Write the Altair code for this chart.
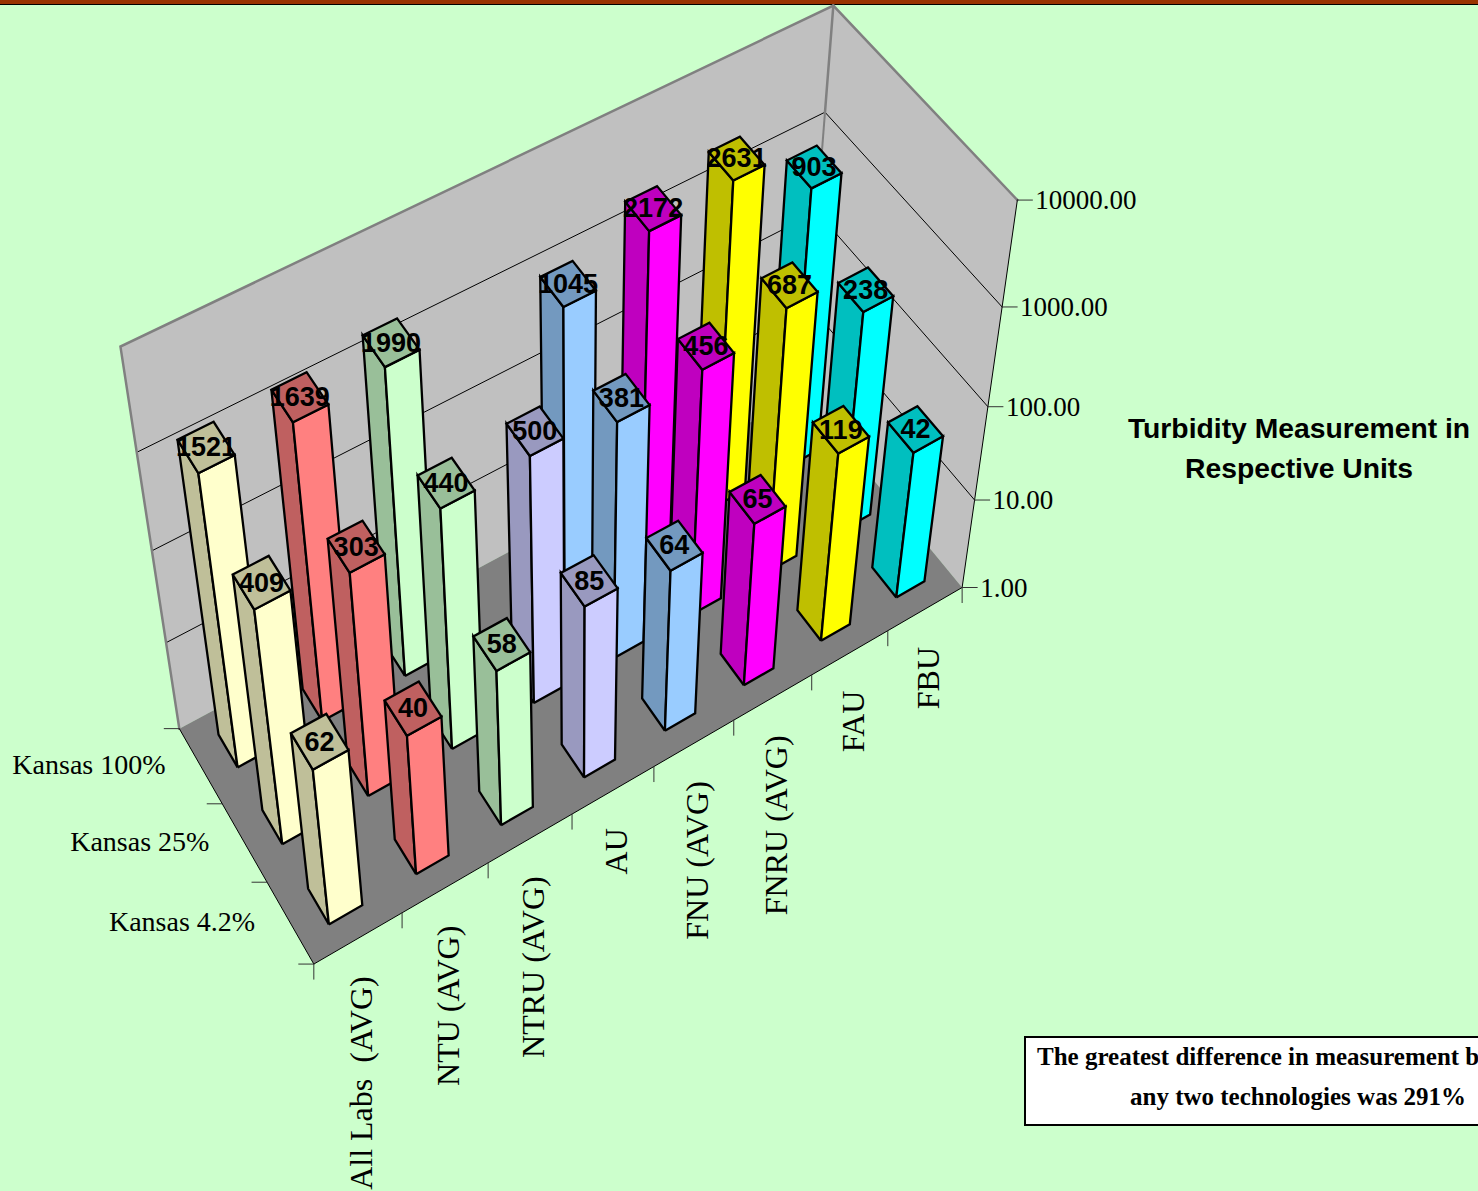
import altair as alt
import numpy as np
import pandas as pd

# Turbidity readings per technology and Kansas dilution
categories = ["All Labs\u00a0 (AVG)", "NTU (AVG)", "NTRU (AVG)", "AU", "FNU (AVG)", "FNRU (AVG)", "FAU", "FBU"]
series = ["Kansas 4.2%", "Kansas 25%", "Kansas 100%"]
kansas_4 = [62, 40, 58, 85, 64, 65, 119, 42]
kansas_25 = [409, 303, 440, 500, 381, 456, 687, 238]
kansas_100 = [1521, 1639, 1990, None, 1045, 2172, 2631, 903]
z_ticks = ["1.00", "10.00", "100.00", "1000.00", "10000.00"]
light = ["#FFFFCC", "#FF8080", "#CCFFCC", "#CCCCFF", "#99CCFF", "#FF00FF", "#FFFF00", "#00FFFF"]
dark = ["#BFBF99", "#BF6060", "#99BF99", "#9999BF", "#7399BF", "#BF00BF", "#BFBF00", "#00BFBF"]

W, H = 1478, 1191

# Perspective camera for the 3-D box: (category, row, decade) -> canvas position
camera_world = np.array([
    (0, 0, 0), (8, 0, 0), (0, 3, 0), (8, 3, 0), (8, 0, 1), (8, 0, 2), (8, 0, 3), (8, 0, 4),
    (8, 3, 4), (8, 3, 3), (0, 3, 4), (0, 3, 3), (0, 3, 2), (0, 3, 1), (1, 0, 0), (7, 0, 0),
    (0, 1, 0), (0, 2, 0),
    (7.32, 0.72, 1.623), (7.32, 0.28, 1.623), (7.7, 0.28, 1.623), (7.7, 0.72, 1.623), (7.32, 0.28, 0),
    (0.32, 0.72, 1.792), (0.7, 0.72, 1.792), (0.7, 0.28, 1.792), (0.32, 0.28, 1.792),
    (0.32, 0.28, 0), (0.7, 0.28, 0), (0.32, 0.72, 0),
    (0.32, 2.72, 3.182), (0.7, 2.72, 3.182), (0.7, 2.28, 3.182), (0.32, 2.28, 3.182)], dtype=float)
camera_canvas = np.array([
    (315, 965), (963, 587), (178, 727), (803, 396), (975, 499), (988, 406), (1002, 307), (1017, 201),
    (833, 5), (825, 112), (120, 347), (138, 452), (152, 550), (167, 642), (403, 913), (888, 632),
    (267, 882), (222, 804),
    (889, 425), (911, 451), (942, 434), (920, 407), (895, 597),
    (292, 737), (328, 717), (348, 749), (312, 768),
    (327, 923), (362, 903), (308, 891),
    (177, 441), (215, 423), (234, 453), (197, 472)], dtype=float)

rows_a, rows_b = [], []
for (X, Y, Z), (u, v) in zip(camera_world, camera_canvas):
    rows_a.append([X, Y, Z, 1, 0, 0, 0, 0, -u * X, -u * Y, -u * Z])
    rows_b.append(u)
    rows_a.append([0, 0, 0, 0, X, Y, Z, 1, -v * X, -v * Y, -v * Z])
    rows_b.append(v)
cam = np.append(np.linalg.lstsq(np.array(rows_a), np.array(rows_b), rcond=None)[0], 1).reshape(3, 4)


def project(c, s, z):
    p = cam @ np.array([c, s, z, 1.0])
    return p[0] / p[2], p[1] / p[2]


def table(poly_list):
    out = []
    for pid, pts, fill in poly_list:
        for i, p in enumerate(list(pts) + [pts[0]]):
            x, y = project(*p)
            out.append({"id": pid, "i": i, "x": x, "y": y, "fill": fill})
    return pd.DataFrame(out)


def lines_table(segments):
    out = []
    for pid, seg in enumerate(segments):
        for i, p in enumerate(seg):
            x, y = project(*p)
            out.append({"id": pid, "i": i, "x": x, "y": y})
    return pd.DataFrame(out)


x_enc = alt.X("x:Q", scale=alt.Scale(domain=[0, W]), axis=None)
y_enc = alt.Y("y:Q", scale=alt.Scale(domain=[H, 0]), axis=None)


def draw_polys(df, stroke, width):
    mark = alt.Chart(df).mark_line(strokeWidth=width, strokeJoin="miter", stroke=stroke, interpolate="linear")
    return mark.encode(x=x_enc, y=y_enc, detail="id:N", order="i:Q",
                       fill=alt.Fill("fill:N", scale=None, legend=None))


def draw_lines(df, color, width):
    return alt.Chart(df).mark_line(color=color, strokeWidth=width, strokeCap="square").encode(
        x=x_enc, y=y_enc, detail="id:N", order="i:Q")


# Walls and floor
box = [
    ([(0, 3, 0), (8, 3, 0), (8, 3, 4), (0, 3, 4)], "#C0C0C0"),
    ([(8, 3, 0), (8, 0, 0), (8, 0, 4), (8, 3, 4)], "#C0C0C0"),
    ([(0, 0, 0), (8, 0, 0), (8, 3, 0), (0, 3, 0)], "#808080"),
]
box_df = table([(i, p, f) for i, (p, f) in enumerate(box)])

grid_df = lines_table([[(0, 3, z), (8, 3, z), (8, 0, z)] for z in (1, 2, 3)])
frame_df = lines_table([
    [(0, 3, 0), (0, 3, 4), (8, 3, 4), (8, 0, 4)],
    [(8, 3, 4), (8, 3, 3)],
])
back_post_df = lines_table([[(8, 3, 3), (8, 3, 0)]])
axis_df = lines_table([
    [(0, 3, 0), (0, 0, 0), (8, 0, 0), (8, 0, 4)],
])

# Bars, painted from the back row to the front
c_lo, c_hi, s_lo, s_hi = 0.32, 0.70, 0.28, 0.72
rows = [kansas_4, kansas_25, kansas_100]
labels = []
bar_polys = []
for row in (2, 1, 0):
    for cat in range(7, -1, -1):
        value = rows[row][cat]
        if value is None:
            continue
        h = float(np.log10(value))
        c0, c1, s0, s1 = cat + c_lo, cat + c_hi, row + s_lo, row + s_hi
        pid = len(bar_polys)
        bar_polys.append((pid, [(c0, s0, 0), (c0, s1, 0), (c0, s1, h), (c0, s0, h)], dark[cat]))
        bar_polys.append((pid + 1, [(c0, s0, 0), (c1, s0, 0), (c1, s0, h), (c0, s0, h)], light[cat]))
        bar_polys.append((pid + 2, [(c0, s0, h), (c1, s0, h), (c1, s1, h), (c0, s1, h)], dark[cat]))
        lx, ly = project((c0 + c1) / 2, (s0 + s1) / 2, h)
        labels.append({"x": lx, "y": ly, "text": str(value)})
bars_df = table(bar_polys)
labels_df = pd.DataFrame(labels)

# Tick marks: the offsets are drawn in canvas units from each projected tick point
tick_rows = []
tid = 0
for z in range(5):
    x, y = project(8, 0, z)
    tick_rows += [{"id": tid, "i": 0, "x": x, "y": y}, {"id": tid, "i": 1, "x": x + 15, "y": y}]
    tid += 1
for s in range(4):
    x, y = project(0, s, 0)
    tick_rows += [{"id": tid, "i": 0, "x": x, "y": y}, {"id": tid, "i": 1, "x": x - 15, "y": y}]
    tid += 1
for c in range(9):
    x, y = project(c, 0, 0)
    tick_rows += [{"id": tid, "i": 0, "x": x, "y": y}, {"id": tid, "i": 1, "x": x, "y": y + 15}]
    tid += 1
ticks_df = pd.DataFrame(tick_rows)

axis_font = "Liberation Serif"
z_df = pd.DataFrame([{"x": project(8, 0, z)[0] + 18, "y": project(8, 0, z)[1], "text": t}
                     for z, t in enumerate(z_ticks)])
s_df = pd.DataFrame([{"x": project(0, s + 0.5, 0)[0] - 35, "y": project(0, s + 0.5, 0)[1], "text": t}
                     for s, t in enumerate(series)])
c_df = pd.DataFrame([{"x": project(c + 0.5, 0, 0)[0] + 4, "y": project(c + 0.5, 0, 0)[1] + 38, "text": t}
                     for c, t in enumerate(categories)])


def text_layer(df, **kw):
    return alt.Chart(df).mark_text(**kw).encode(x=x_enc, y=y_enc, text="text:N")


def frame_rect(x0, y0, x1, y1, **kw):
    df = pd.DataFrame([{"x": x0, "y": y0, "x2": x1, "y2": y1}])
    return alt.Chart(df).mark_rect(**kw).encode(x=x_enc, y=y_enc, x2="x2:Q", y2="y2:Q")


title_df = pd.DataFrame([{"x": 1299, "y": 430, "text": "Turbidity Measurement in"},
                         {"x": 1299, "y": 470, "text": "Respective Units"}])
note_df = pd.DataFrame([{"x": 1037, "y": 1057, "text": "The greatest difference in measurement between"},
                        {"x": 1130, "y": 1097, "text": "any two technologies was 291%"}])

chart = alt.layer(
    frame_rect(0, 0, W, 4, color="#993300"),
    frame_rect(0, 4, W, 5, color="#000000"),
    draw_polys(box_df, "transparent", 0),
    draw_lines(grid_df, "#000000", 1),
    draw_lines(frame_df, "#808080", 2.5),
    draw_lines(back_post_df, "#808080", 2),
    draw_lines(axis_df, "#000000", 1),
    draw_lines(ticks_df, "#333333", 1),
    draw_polys(bars_df, "#000000", 2.3),
    text_layer(labels_df, font="Liberation Sans", fontSize=27, fontWeight="bold", color="#000000",
               align="center", baseline="middle", dy=1),
    text_layer(z_df, font=axis_font, fontSize=27, align="left", baseline="middle", color="#000000", dy=1),
    text_layer(s_df, font=axis_font, fontSize=28, align="right", baseline="middle", color="#000000"),
    text_layer(c_df, font=axis_font, fontSize=32, align="right", baseline="middle", angle=270, color="#000000"),
    text_layer(title_df, font="Liberation Sans", fontSize=28.3, fontWeight="bold", align="center",
               baseline="middle", color="#000000"),
    frame_rect(1025, 1037, 1580, 1125, fill="#FFFFFF", stroke="#000000", strokeWidth=2),
    text_layer(note_df, font=axis_font, fontSize=25, fontWeight="bold", align="left",
               baseline="middle", color="#000000"),
).properties(
    width=W, height=H, padding=0, autosize=alt.AutoSizeParams(type="none"), background="#CCFFCC"
).configure_view(stroke=None)

chart.save("out.html", embed_options={"renderer": "svg", "actions": False})
